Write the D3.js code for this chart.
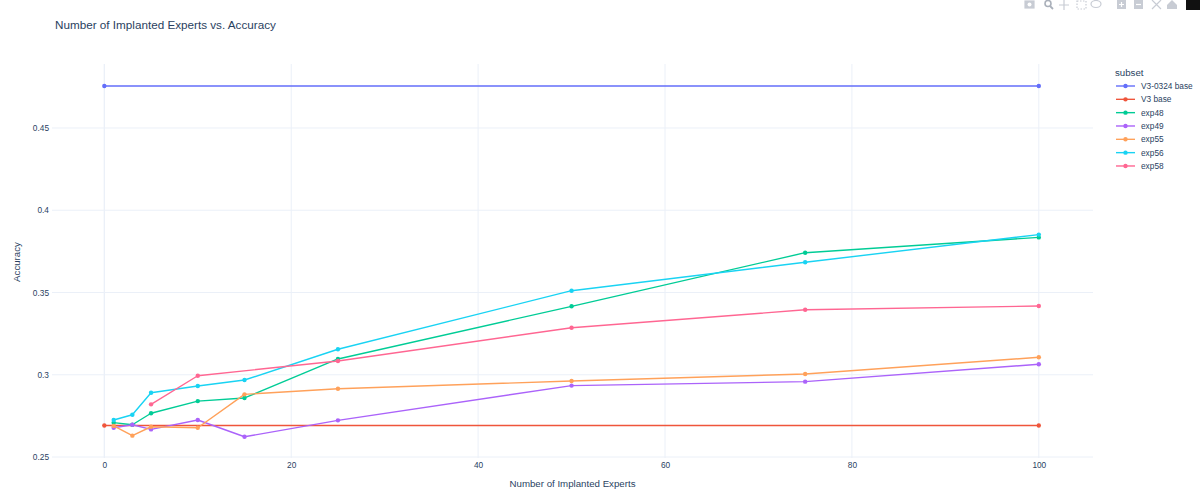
<!DOCTYPE html>
<html>
<head>
<meta charset="utf-8">
<script src="https://cdn.jsdelivr.net/npm/d3@7"></script>
<style>
  html, body { margin: 0; padding: 0; background: #fff; }
  svg { display: block; font-family: "Liberation Sans", Arial, sans-serif; }
</style>
</head>
<body>
<svg id="chart" width="1200" height="503"></svg>
<script>
// Values
const seriesNames = ['V3-0324 base', 'V3 base', 'exp48', 'exp49', 'exp55', 'exp56', 'exp58'];
const colors = ['#636efa', '#EF553B', '#00cc96', '#ab63fa', '#FFA15A', '#19d3f3', '#FF6692'];

const baseExperts = [0, 100];
const expExperts = [1, 3, 5, 10, 15, 25, 50, 75, 100];
const exp58Experts = [5, 10, 25, 50, 75, 100];

const v30324Base = [0.4755, 0.4755];
const v3Base = [0.2692, 0.2692];
const exp48 = [0.2709, 0.2696, 0.2766, 0.2840, 0.2859, 0.3096, 0.3416, 0.3742, 0.3835];
const exp49 = [0.2678, 0.2696, 0.2668, 0.2725, 0.2623, 0.2723, 0.2934, 0.2958, 0.3064];
const exp55 = [0.2689, 0.2630, 0.2684, 0.2678, 0.2881, 0.2915, 0.2962, 0.3005, 0.3106];
const exp56 = [0.2725, 0.2757, 0.2891, 0.2932, 0.2968, 0.3155, 0.3511, 0.3684, 0.3852];
const exp58 = [0.2820, 0.2994, 0.3084, 0.3286, 0.3395, 0.3418];

const xTicks = [0, 20, 40, 60, 80, 100];
const yTicks = [0.25, 0.3, 0.35, 0.4, 0.45];

const series = [
  [baseExperts, v30324Base],
  [baseExperts, v3Base],
  [expExperts, exp48],
  [expExperts, exp49],
  [expExperts, exp55],
  [expExperts, exp56],
  [exp58Experts, exp58]
].map(([xs, ys], i) => ({
  name: seriesNames[i],
  color: colors[i],
  points: xs.map((x, j) => ({ x, y: ys[j] }))
}));

const textColor = '#2a3f5f';
const gridColor = '#ebf0f8';
const plot = { left: 52, right: 1093, top: 64, bottom: 458 };

const svg = d3.select('#chart');

const x = d3.scaleLinear().domain([-5.6, 105.8]).range([plot.left, plot.right]);
const y = d3.scaleLinear().domain([0.2494, 0.4889]).range([plot.bottom, plot.top]);

// Grid lines
const grid = svg.append('g').attr('class', 'grid');
grid.selectAll('.vgrid')
  .data(xTicks)
  .join('line')
  .attr('x1', d => x(d)).attr('x2', d => x(d))
  .attr('y1', plot.top).attr('y2', plot.bottom)
  .attr('stroke', gridColor)
  .attr('stroke-width', d => d === 0 ? 1.4 : 1);
grid.selectAll('.hgrid')
  .data(yTicks)
  .join('line')
  .attr('x1', plot.left).attr('x2', plot.right)
  .attr('y1', d => y(d)).attr('y2', d => y(d))
  .attr('stroke', gridColor)
  .attr('stroke-width', 1);

// Axes (labels only, plotly_white look)
const xAxis = svg.append('g')
  .attr('transform', `translate(0,${plot.bottom})`)
  .call(d3.axisBottom(x).tickValues(xTicks).tickSize(0).tickPadding(4).tickFormat(d3.format('d')));
const yAxis = svg.append('g')
  .attr('transform', `translate(${plot.left},0)`)
  .call(d3.axisLeft(y).tickValues(yTicks).tickSize(0).tickPadding(3).tickFormat(d3.format('~g')));
[xAxis, yAxis].forEach(a => {
  a.select('.domain').remove();
  a.selectAll('text')
    .attr('fill', textColor)
    .style('font-family', '"Liberation Sans", Arial, sans-serif')
    .style('font-size', '8.3px');
});

// Lines and markers
const line = d3.line().x(d => x(d.x)).y(d => y(d.y));
const traces = svg.append('g').attr('class', 'traces');
series.forEach(s => {
  const g = traces.append('g');
  g.append('path')
    .datum(s.points)
    .attr('d', line)
    .attr('fill', 'none')
    .attr('stroke', s.color)
    .attr('stroke-width', 1.4)
    .attr('stroke-linejoin', 'round');
  g.selectAll('circle')
    .data(s.points)
    .join('circle')
    .attr('cx', d => x(d.x))
    .attr('cy', d => y(d.y))
    .attr('r', 2.2)
    .attr('fill', s.color);
});

// Title
svg.append('text')
  .attr('x', 55).attr('y', 29)
  .attr('fill', textColor)
  .style('font-size', '11.7px')
  .text('Number of Implanted Experts vs. Accuracy');

// Axis titles
svg.append('text')
  .attr('x', (plot.left + plot.right) / 2).attr('y', 484)
  .attr('dy', '0.35em')
  .attr('text-anchor', 'middle')
  .attr('fill', textColor)
  .style('font-size', '9.7px')
  .text('Number of Implanted Experts');
svg.append('text')
  .attr('transform', `translate(17,262) rotate(-90)`)
  .attr('dy', '0.35em')
  .attr('text-anchor', 'middle')
  .attr('fill', textColor)
  .style('font-size', '9.7px')
  .text('Accuracy');

// Legend
const legend = svg.append('g').attr('transform', 'translate(1115,0)');
legend.append('text')
  .attr('x', 0).attr('y', 73)
  .attr('dy', '0.35em')
  .attr('fill', textColor)
  .style('font-size', '9.7px')
  .text('subset');
const items = legend.selectAll('.item')
  .data(series)
  .join('g')
  .attr('transform', (d, i) => `translate(0,${86 + i * 13.33})`);
items.append('line')
  .attr('x1', 1).attr('x2', 20)
  .attr('stroke', d => d.color)
  .attr('stroke-width', 1.4);
items.append('circle')
  .attr('cx', 10.5).attr('r', 2.2)
  .attr('fill', d => d.color);
items.append('text')
  .attr('x', 26).attr('dy', '0.35em')
  .attr('fill', textColor)
  .style('font-size', '8.3px')
  .text(d => d.name);

// Modebar (faint toolbar glyphs, top right)
const mb = svg.append('g').attr('fill', 'none').attr('stroke', '#c8ccd4').attr('stroke-width', 1.2);
mb.append('rect').attr('x', 1025).attr('y', 1).attr('width', 9).attr('height', 7).attr('fill', '#c8ccd4');
mb.append('circle').attr('cx', 1029.5).attr('cy', 4.5).attr('r', 2).attr('fill', '#fff').attr('stroke', 'none');
mb.append('circle').attr('cx', 1048).attr('cy', 3.5).attr('r', 3).attr('stroke', '#aab0ba').attr('stroke-width', 1.6);
mb.append('line').attr('x1', 1050).attr('y1', 6).attr('x2', 1053).attr('y2', 9).attr('stroke', '#aab0ba').attr('stroke-width', 1.8);
mb.append('path').attr('d', 'M1059,5H1069M1064,0V10');
mb.append('rect').attr('x', 1077).attr('y', 1).attr('width', 9).attr('height', 8).attr('stroke-dasharray', '1.5 1.5');
mb.append('ellipse').attr('cx', 1096).attr('cy', 4).attr('rx', 5).attr('ry', 3.5);
mb.append('rect').attr('x', 1117).attr('y', 0).attr('width', 9).attr('height', 9).attr('fill', '#c8ccd4').attr('stroke', 'none');
mb.append('path').attr('d', 'M1119,4.5H1124M1121.5,2V7').attr('stroke', '#fff');
mb.append('rect').attr('x', 1134).attr('y', 0).attr('width', 9).attr('height', 9).attr('fill', '#c8ccd4').attr('stroke', 'none');
mb.append('path').attr('d', 'M1136,4.5H1141').attr('stroke', '#fff');
mb.append('path').attr('d', 'M1152,0L1161,9M1161,0L1152,9');
mb.append('path').attr('d', 'M1167,5L1172,0L1177,5V9H1167Z').attr('fill', '#c8ccd4').attr('stroke', 'none');
svg.append('rect').attr('x', 1186).attr('y', 0).attr('width', 14).attr('height', 10).attr('fill', '#111');
</script>
</body>
</html>
